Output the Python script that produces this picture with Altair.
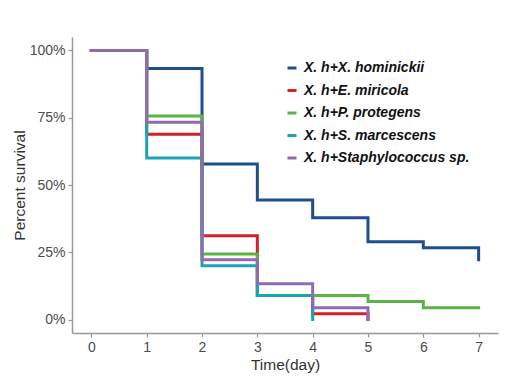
import altair as alt
import pandas as pd

series = ["X. h+X. hominickii", "X. h+E. miricola", "X. h+P. protegens",
          "X. h+S. marcescens", "X. h+Staphylococcus sp."]
colors = ["#1F4E8C", "#D42027", "#5BB443", "#1BA3B8", "#8F6BB0"]

days_blue = [0, 1, 2, 3, 4, 5, 6, 7]
surv_blue = [1.0, 0.933, 0.578, 0.444, 0.378, 0.289, 0.267, 0.222]
days_red = [0, 1, 2, 3, 4, 5]
surv_red = [1.0, 0.689, 0.311, 0.089, 0.022, 0.0]
days_green = [0, 1, 2, 3, 4, 5, 6, 7]
surv_green = [1.0, 0.756, 0.244, 0.089, 0.089, 0.067, 0.044, 0.044]
days_cyan = [0, 1, 2, 3, 4]
surv_cyan = [1.0, 0.600, 0.200, 0.089, 0.0]
days_purple = [0, 1, 2, 3, 4, 5]
surv_purple = [1.0, 0.733, 0.222, 0.133, 0.044, 0.0]

all_days = [days_blue, days_red, days_green, days_cyan, days_purple]
all_surv = [surv_blue, surv_red, surv_green, surv_cyan, surv_purple]

color_scale = alt.Scale(domain=series, range=colors)
layers = []
for name, d, s in zip(series, all_days, all_surv):
    df = pd.DataFrame({"day": d, "surv": s, "group": name})
    layers.append(
        alt.Chart(df).mark_line(interpolate="step-after", strokeWidth=3, strokeCap="square").encode(
            x=alt.X("day:Q", scale=alt.Scale(domain=[-0.35, 7.35], nice=False, zero=False),
                    axis=alt.Axis(values=[0, 1, 2, 3, 4, 5, 6, 7], title="Time(day)", format="d")),
            y=alt.Y("surv:Q", scale=alt.Scale(domain=[-0.05, 1.05], nice=False, zero=False),
                    axis=alt.Axis(values=[0, 0.25, 0.5, 0.75, 1.0], format=".0%", title="Percent survival")),
            color=alt.Color("group:N", scale=color_scale, sort=series,
                            legend=alt.Legend(title=None, orient="none", legendX=213, legendY=24,
                                              symbolType="stroke", symbolSize=81, symbolStrokeWidth=3,
                                              labelFont="Liberation Sans", labelFontSize=14,
                                              labelFontWeight="bold", labelFontStyle="italic",
                                              labelColor="#111111", labelOffset=5, rowPadding=8.5,
                                              padding=0, labelLimit=300)),
        )
    )

chart = alt.layer(*layers).properties(
    width=426, height=296,
    autosize=alt.AutoSizeParams(type="none"),
    padding={"left": 64, "top": 29, "right": 12, "bottom": 40},
).configure_view(stroke=None).configure_axis(
    grid=False, domainColor="#999999", domainWidth=1.5, tickColor="#999999", tickSize=4,
    tickWidth=1.2, labelFont="Liberation Sans", labelFontSize=14, labelColor="#4D4D4D",
    titleFont="Liberation Sans", titleFontSize=15.5, titleFontWeight="normal", titleColor="#333333",
    labelPadding=3,
).configure_axisX(titlePadding=3).configure_axisY(titlePadding=2)

chart.save("out.html", embed_options={"renderer": "svg", "actions": False})
